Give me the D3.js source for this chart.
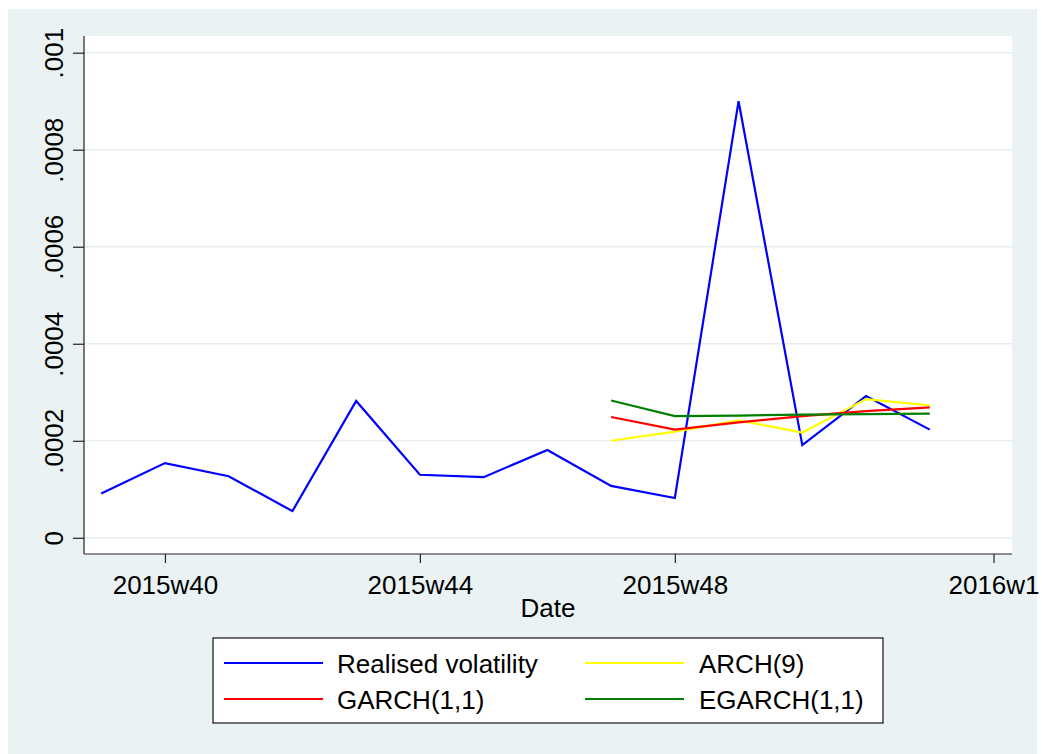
<!DOCTYPE html>
<html>
<head>
<meta charset="utf-8">
<script src="https://cdn.jsdelivr.net/npm/d3@7"></script>
<style>
  html, body { margin: 0; padding: 0; background: #ffffff; }
  svg { display: block; }
  text { font-family: "Liberation Sans", Arial, Helvetica, sans-serif; fill: #000; }
</style>
</head>
<body>
<svg id="chart" width="1042" height="754"></svg>
<script>
// ---- data (week index: 2015wN = N, 2016w1 = 53) ----
const realisedWeeks = [39, 40, 41, 42, 43, 44, 45, 46, 47, 48, 49, 50, 51, 52];
const realisedVol   = [0.0000913, 0.000154, 0.000127, 0.0000550, 0.000282, 0.000130, 0.000125,
                       0.000181, 0.000107, 0.0000820, 0.000900, 0.000191, 0.000292, 0.000223];
const forecastWeeks = [47, 48, 49, 50, 51, 52];
const arch9   = [0.000200, 0.000219, 0.000242, 0.000217, 0.000286, 0.000273];
const garch11 = [0.000249, 0.000223, 0.000238, 0.000251, 0.000261, 0.000269];
const egarch11 = [0.000283, 0.000251, 0.000252, 0.000254, 0.000255, 0.000256];

const xTickValues = [40, 44, 48, 53];
const xTickLabels = ["2015w40", "2015w44", "2015w48", "2016w1"];
const yTickValues = [0, 0.0002, 0.0004, 0.0006, 0.0008, 0.001];
const yTickLabels = ["0", ".0002", ".0004", ".0006", ".0008", ".001"];

const seriesNames  = ["Realised volatility", "ARCH(9)", "GARCH(1,1)", "EGARCH(1,1)"];
const seriesColors = ["#0000ff", "#ffff00", "#ff0000", "#008000"];

// ---- layout ----
const svg = d3.select("#chart");
const plot = { left: 84, right: 1012, top: 36, bottom: 554 };

svg.append("rect").attr("x", 8).attr("y", 9).attr("width", 1029).attr("height", 745)
   .attr("fill", "#eaf2f3");
svg.append("rect").attr("x", plot.left).attr("y", plot.top)
   .attr("width", plot.right - plot.left).attr("height", plot.bottom - plot.top)
   .attr("fill", "#ffffff");

const x = d3.scaleLinear().domain([38.73, 53.29]).range([plot.left, plot.right]);
const y = d3.scaleLinear().domain([-0.0000334, 0.0010344]).range([plot.bottom, plot.top]);

// grid lines
svg.append("g").selectAll("line").data(yTickValues).join("line")
  .attr("x1", plot.left).attr("x2", plot.right)
  .attr("y1", d => y(d)).attr("y2", d => y(d))
  .attr("stroke", "#e6eef0").attr("stroke-width", 1.6);

// y axis
const yAxis = d3.axisLeft(y).tickValues(yTickValues)
  .tickFormat((d, i) => yTickLabels[i]).tickSize(11).tickSizeOuter(0);
const gy = svg.append("g").attr("transform", `translate(${plot.left},0)`).call(yAxis);
gy.select(".domain").attr("d", `M0,${plot.top}V${plot.bottom}`).attr("stroke", "#222").attr("stroke-width", 1.2);
gy.selectAll(".tick line").attr("stroke", "#222").attr("stroke-width", 1.2);
gy.selectAll(".tick text")
  .attr("font-size", 26).attr("font-family", '"Liberation Sans", Arial, sans-serif')
  .attr("fill", "#000")
  .attr("text-anchor", "middle").attr("dy", null).attr("x", null)
  .attr("transform", "translate(-21,0) rotate(-90)")
  .attr("y", 0);

// x axis
const xAxis = d3.axisBottom(x).tickValues(xTickValues)
  .tickFormat((d, i) => xTickLabels[i]).tickSize(9).tickSizeOuter(0);
const gx = svg.append("g").attr("transform", `translate(0,${plot.bottom})`).call(xAxis);
gx.select(".domain").attr("d", `M${plot.left},0H${plot.right}`).attr("stroke", "#222").attr("stroke-width", 1.2);
gx.selectAll(".tick line").attr("stroke", "#222").attr("stroke-width", 1.2);
gx.selectAll(".tick text")
  .attr("font-size", 26).attr("font-family", '"Liberation Sans", Arial, sans-serif')
  .attr("fill", "#000").attr("dy", null).attr("y", 40);

// axis title
svg.append("text").attr("x", (plot.left + plot.right) / 2).attr("y", 617)
  .attr("text-anchor", "middle").attr("font-size", 26).text("Date");

// lines
const line = d3.line().x(d => x(d[0])).y(d => y(d[1]));
const seriesData = [
  d3.zip(realisedWeeks, realisedVol),
  d3.zip(forecastWeeks, arch9),
  d3.zip(forecastWeeks, garch11),
  d3.zip(forecastWeeks, egarch11)
];
svg.append("g").selectAll("path").data(seriesData).join("path")
  .attr("d", line).attr("fill", "none")
  .attr("stroke", (d, i) => seriesColors[i])
  .attr("stroke-width", 2.2).attr("stroke-linejoin", "miter");

// legend
const lg = svg.append("g");
lg.append("rect").attr("x", 213).attr("y", 638).attr("width", 670).attr("height", 85)
  .attr("fill", "#ffffff").attr("stroke", "#111").attr("stroke-width", 1.2);
const legendPos = [
  { lx: 224, tx: 337, y: 663 },
  { lx: 585, tx: 699, y: 663 },
  { lx: 224, tx: 337, y: 699 },
  { lx: 585, tx: 699, y: 699 }
];
seriesNames.forEach((name, i) => {
  const p = legendPos[i];
  lg.append("line").attr("x1", p.lx).attr("x2", p.lx + 99)
    .attr("y1", p.y).attr("y2", p.y)
    .attr("stroke", seriesColors[i]).attr("stroke-width", 2.2);
  lg.append("text").attr("x", p.tx).attr("y", p.y + 9.5)
    .attr("font-size", 26).text(name);
});
</script>
</body>
</html>
